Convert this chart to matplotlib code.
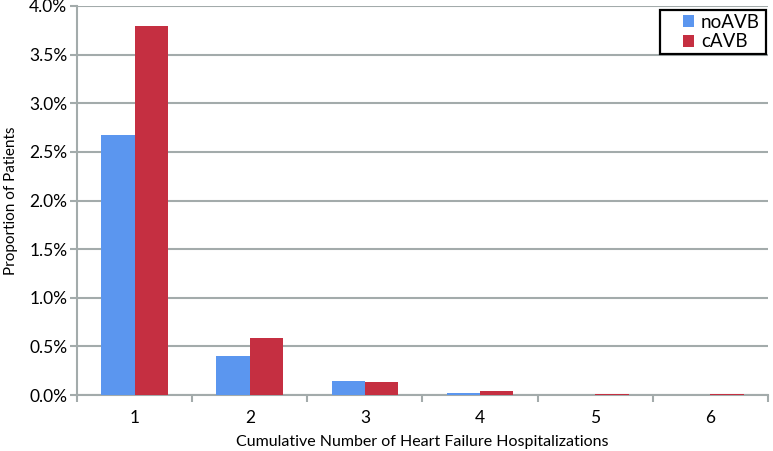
import numpy as np
import matplotlib.pyplot as plt
from matplotlib.patches import Rectangle
from matplotlib.ticker import FuncFormatter, MultipleLocator

plt.rcParams['font.family'] = ['Lato', 'DejaVu Sans']

# data (percent of patients)
categories = ["1", "2", "3", "4", "5", "6"]
no_avb = [2.67, 0.40, 0.14, 0.02, 0.005, 0.005]
c_avb = [3.79, 0.59, 0.13, 0.045, 0.012, 0.012]

BLUE = "#5b96ef"
RED = "#c52f41"
GRID = "#a3abab"

W, H = 773, 451
fig = plt.figure(figsize=(W / 100, H / 100), dpi=100)
ax = fig.add_axes([77 / W, 56 / H, 691 / W, 389 / H])

x = np.arange(len(categories))
w = 0.29
ax.bar(x - w / 2, no_avb, w, color=BLUE, label="noAVB", zorder=3)
ax.bar(x + w / 2, c_avb, w, color=RED, label="cAVB", zorder=3)

ax.set_xlim(-0.5, len(categories) - 0.5)
ax.set_ylim(0, 4.0)
ax.yaxis.set_major_locator(MultipleLocator(0.5))
ax.yaxis.set_major_formatter(FuncFormatter(lambda v, p: f"{v:.1f}%"))
ax.grid(axis="y", color=GRID, linewidth=1.5, zorder=0)

# category labels centred, tick marks on the boundaries
ax.set_xticks(x)
ax.set_xticklabels(categories)
ax.tick_params(axis="x", length=0, labelsize=12.5, pad=11)
ax.set_xticks(np.arange(-0.5, len(categories)), minor=True)
ax.tick_params(axis="x", which="minor", length=5, width=1.5, color=GRID)
ax.tick_params(axis="y", length=5, width=1.5, color=GRID, labelsize=12.5, pad=2)

for s in ["top", "right"]:
    ax.spines[s].set_visible(False)
for s in ["left", "bottom"]:
    ax.spines[s].set_color(GRID)
    ax.spines[s].set_linewidth(1.5)

ax.set_xlabel("Cumulative Number of Heart Failure Hospitalizations", fontsize=11.5, labelpad=6)
ax.set_ylabel("Proportion of Patients", fontsize=11, labelpad=8)

# legend: frameless entries inside a hand-drawn black box
leg = ax.legend(loc="upper left", bbox_to_anchor=(683 / W, 1 - 14 / H),
                bbox_transform=fig.transFigure, fontsize=13.5, frameon=False,
                handlelength=0.6, handleheight=0.6, handletextpad=0.35,
                borderpad=0, labelspacing=0.12, borderaxespad=0)
fig.patches.append(Rectangle((660 / W, 1 - 54 / H), 106 / W, 44 / H,
                             transform=fig.transFigure, fill=False,
                             edgecolor="black", linewidth=1.6))

fig.savefig("out.png", dpi=100)
